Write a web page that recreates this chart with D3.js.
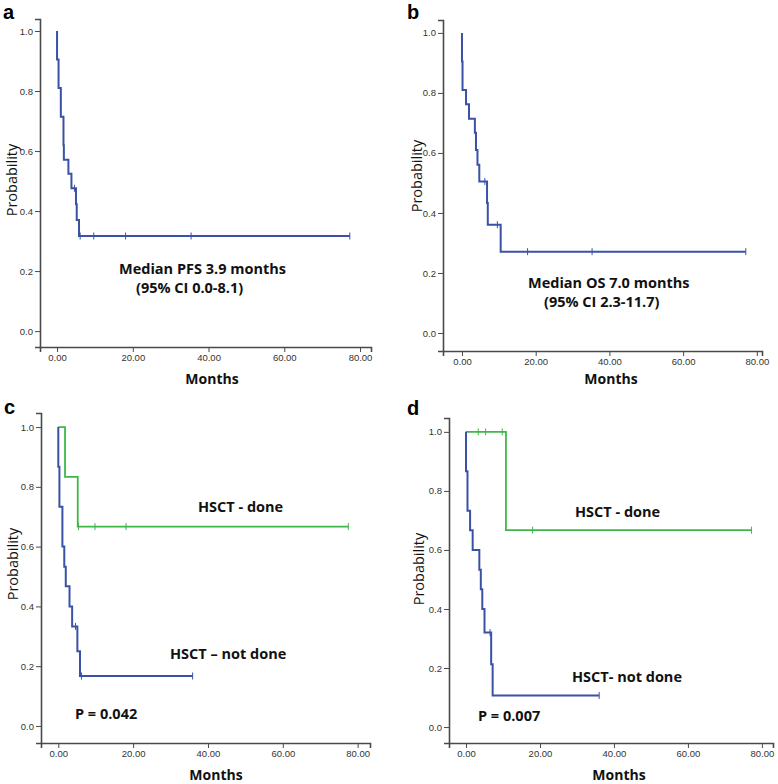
<!DOCTYPE html>
<html>
<head>
<meta charset="utf-8">
<script src="https://cdn.jsdelivr.net/npm/d3@7"></script>
<style>
  html, body { margin: 0; padding: 0; background: #fff; }
  svg { display: block; }
</style>
</head>
<body>
<svg id="chart" width="778" height="784"></svg>
<script>
// ---------- DATA ----------
const xTickValues = [0, 20, 40, 60, 80];
const yTickValues = [0, 0.2, 0.4, 0.6, 0.8, 1.0];
const panelLetters = ["a", "b", "c", "d"];
const xAxisTitle = "Months";
const yAxisTitle = "Probability";

// Panel a: PFS (event time, survival after event)
const pfsEventTimes = [0, 0.4, 1.0, 1.7, 1.8, 3.0, 3.8, 5.0, 5.2, 5.8];
const pfsSurvival   = [0.905, 0.810, 0.714, 0.619, 0.571, 0.524, 0.476, 0.423, 0.370, 0.317];
const pfsCensored   = [4.6, 6.1, 9.7, 18.1, 35.4, 77.3];

// Panel b: OS
const osEventTimes = [0, 0.15, 1.1, 1.9, 3.5, 3.8, 4.2, 4.7, 6.8, 7.0, 10.5];
const osSurvival   = [0.905, 0.810, 0.762, 0.714, 0.667, 0.610, 0.561, 0.505, 0.433, 0.361, 0.271];
const osCensored   = [6.2, 9.6, 17.8, 35.3, 77.0];

// Panel c: PFS by HSCT
const cDoneEventTimes = [1.8, 5.2];
const cDoneSurvival   = [0.833, 0.667];
const cDoneCensored   = [5.4, 9.8, 18.1, 77.5];
const cNotEventTimes  = [0, 0.3, 1.1, 1.6, 2.0, 3.0, 3.7, 5.1, 5.8];
const cNotSurvival    = [0.867, 0.733, 0.600, 0.533, 0.467, 0.400, 0.333, 0.250, 0.167];
const cNotCensored    = [4.6, 6.2, 35.9];

// Panel d: OS by HSCT
const dDoneEventTimes = [10.8];
const dDoneSurvival   = [0.667];
const dDoneCensored   = [3.3, 5.3, 9.8, 18.0, 77.2];
const dNotEventTimes  = [0, 0.4, 1.1, 1.8, 3.6, 4.0, 4.4, 5.0, 6.8, 7.2];
const dNotSurvival    = [0.867, 0.733, 0.667, 0.600, 0.533, 0.467, 0.400, 0.320, 0.213, 0.107];
const dNotCensored    = [6.5, 36.0];

const annotationsA = ["Median PFS 3.9 months", "(95% CI 0.0-8.1)"];
const annotationsB = ["Median OS 7.0 months", "(95% CI 2.3-11.7)"];
const annotationsC = ["HSCT - done", "HSCT \u2013 not done", "P  =  0.042"];
const annotationsD = ["HSCT - done", "HSCT- not done", "P  =  0.007"];

// ---------- STYLE / LAYOUT ----------
const BLUE = "#3a52a6";
const GREEN = "#3fb64a";
const AXIS = "#4a4a4a";
const TEXT_FONT = "'Open Sans', 'Noto Sans', sans-serif";
const TICK_FONT = "'Liberation Sans', Arial, sans-serif";

const svg = d3.select("#chart");

function makeCurve(times, surv, censored) {
  const pts = [[0, 1]];
  times.forEach((t, i) => pts.push([t, surv[i]]));
  const lastT = Math.max(times[times.length - 1], censored.length ? d3.max(censored) : 0);
  pts.push([lastT, surv[surv.length - 1]]);
  const survAt = t => {
    let s = 1;
    times.forEach((et, i) => { if (et <= t) s = surv[i]; });
    return s;
  };
  const marks = censored.map(t => [t, survAt(t)]);
  return { pts, marks };
}

function drawPanel(cfg) {
  const g = svg.append("g");
  const x = d3.scaleLinear().domain(cfg.xDom).range([cfg.left, cfg.right]);
  const y = d3.scaleLinear().domain(cfg.yDom).range([cfg.bottom, cfg.top]);

  const ya = g.append("g").attr("transform", `translate(${cfg.left},0)`)
    .call(d3.axisLeft(y).tickValues(yTickValues).tickFormat(d3.format(".1f")).tickSizeOuter(0).tickSize(5).tickPadding(2));
  const xa = g.append("g").attr("transform", `translate(0,${cfg.bottom})`)
    .call(d3.axisBottom(x).tickValues(xTickValues).tickFormat(d3.format(".2f")).tickSizeOuter(0).tickSize(5).tickPadding(2));
  [ya, xa].forEach(a => {
    a.select(".domain").attr("stroke", AXIS).attr("stroke-width", 1.6);
    a.selectAll(".tick line").attr("stroke", AXIS).attr("stroke-width", 1);
    a.selectAll(".tick text").attr("font-family", TICK_FONT).attr("font-size", 9.5).attr("fill", "#333");
  });

  const line = d3.line().x(d => x(d[0])).y(d => y(d[1])).curve(d3.curveStepAfter);
  cfg.curves.forEach(c => {
    g.append("path").datum(c.curve.pts).attr("d", line)
      .attr("fill", "none").attr("stroke", c.color).attr("stroke-width", c.width);
    g.selectAll(null).data(c.curve.marks).enter().append("line")
      .attr("x1", d => x(d[0])).attr("x2", d => x(d[0]))
      .attr("y1", d => y(d[1]) - 3.5).attr("y2", d => y(d[1]) + 3.5)
      .attr("stroke", c.color).attr("stroke-width", 1);
  });

  g.append("text").attr("x", cfg.letterX).attr("y", cfg.letterY).text(cfg.letter)
    .attr("font-family", TICK_FONT).attr("font-weight", "bold").attr("font-size", 20).attr("fill", "#000");
  g.append("text").attr("transform", `translate(${cfg.yTitleX},${cfg.yTitleY}) rotate(-90)`)
    .attr("text-anchor", "middle").attr("dominant-baseline", "central").text(yAxisTitle)
    .attr("font-family", TEXT_FONT).attr("font-size", 14.5).attr("fill", "#111");
  g.append("text").attr("x", cfg.xTitleX).attr("y", cfg.xTitleY).attr("text-anchor", "middle").text(xAxisTitle)
    .attr("font-family", TEXT_FONT).attr("font-weight", "bold").attr("font-size", 14).attr("fill", "#111");
  cfg.notes.forEach(n => {
    g.append("text").attr("x", n.x).attr("y", n.y).text(n.text)
      .attr("font-family", TEXT_FONT).attr("font-weight", "bold").attr("font-size", 14.5).attr("fill", "#111");
  });
}

drawPanel({
  left: 40, right: 371, top: 19, bottom: 347,
  xDom: [-4.5, 82.9], yDom: [-0.053, 1.04],
  letter: panelLetters[0], letterX: 3, letterY: 19,
  yTitleX: 11, yTitleY: 180, xTitleX: 212, xTitleY: 384,
  curves: [{ curve: makeCurve(pfsEventTimes, pfsSurvival, pfsCensored), color: BLUE, width: 2 }],
  notes: [{ x: 119, y: 274, text: annotationsA[0] }, { x: 136, y: 293, text: annotationsA[1] }]
});

drawPanel({
  left: 443, right: 762, top: 20, bottom: 351,
  xDom: [-5.15, 81.4], yDom: [-0.06, 1.043],
  letter: panelLetters[1], letterX: 407, letterY: 19,
  yTitleX: 416, yTitleY: 176, xTitleX: 611, xTitleY: 384,
  curves: [{ curve: makeCurve(osEventTimes, osSurvival, osCensored), color: BLUE, width: 2 }],
  notes: [{ x: 528, y: 288, text: annotationsB[0] }, { x: 544, y: 307, text: annotationsB[1] }]
});

drawPanel({
  left: 41, right: 370, top: 413, bottom: 743,
  xDom: [-4.62, 83.3], yDom: [-0.057, 1.047],
  letter: panelLetters[2], letterX: 4, letterY: 414,
  yTitleX: 12, yTitleY: 564, xTitleX: 216, xTitleY: 780,
  curves: [
    { curve: makeCurve(cDoneEventTimes, cDoneSurvival, cDoneCensored), color: GREEN, width: 1.8 },
    { curve: makeCurve(cNotEventTimes, cNotSurvival, cNotCensored), color: BLUE, width: 2 }
  ],
  notes: [{ x: 198, y: 512, text: annotationsC[0] }, { x: 170, y: 659, text: annotationsC[1] },
          { x: 75, y: 719, text: annotationsC[2] }]
});

drawPanel({
  left: 449, right: 773, top: 418, bottom: 743,
  xDom: [-4.6, 83], yDom: [-0.054, 1.047],
  letter: panelLetters[3], letterX: 407, letterY: 415,
  yTitleX: 418, yTitleY: 569, xTitleX: 619, xTitleY: 780,
  curves: [
    { curve: makeCurve(dDoneEventTimes, dDoneSurvival, dDoneCensored), color: GREEN, width: 1.8 },
    { curve: makeCurve(dNotEventTimes, dNotSurvival, dNotCensored), color: BLUE, width: 2 }
  ],
  notes: [{ x: 575, y: 517, text: annotationsD[0] }, { x: 572, y: 682, text: annotationsD[1] },
          { x: 478, y: 721, text: annotationsD[2] }]
});
</script>
</body>
</html>
